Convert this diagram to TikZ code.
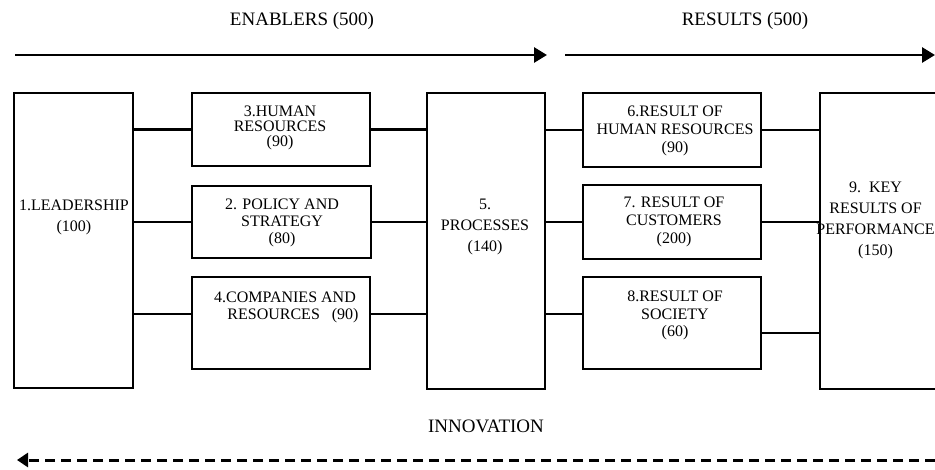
\documentclass[tikz,border=0pt]{standalone}
\usepackage{fontspec}
\setmainfont{Liberation Serif}
\usetikzlibrary{arrows.meta}
\tikzset{
  box/.style={draw, line width=2.7pt, inner sep=0pt},
  btext/.style={inner sep=0pt, align=center, font=\fontsize{16}{#1}\selectfont},
  btext/.default=17,
  htext/.style={inner sep=0pt, font=\fontsize{19}{21}\selectfont},
  conn/.style={line width=2.2pt},
  bigarrow/.style={line width=2.8pt, -{Triangle[length=13pt,width=15pt]}},
}
\begin{document}
\begin{tikzpicture}[x=1pt,y=-1pt]
\useasboundingbox (0,0) rectangle (935,469);
% boxes
\node[box, minimum width=119, minimum height=295] (lead) at (73.5,240.5) {};
\node[box, minimum width=178, minimum height=73] (b3) at (281,129.5) {};
\node[box, minimum width=179, minimum height=72] (b2) at (281.5,222) {};
\node[box, minimum width=178, minimum height=92] (b4) at (281,323) {};
\node[box, minimum width=118, minimum height=296] (proc) at (486,241) {};
\node[box, minimum width=178, minimum height=74] (b6) at (672,130) {};
\node[box, minimum width=178, minimum height=74] (b7) at (672,222) {};
\node[box, minimum width=178, minimum height=92] (b8) at (672,323) {};
\node[box, minimum width=130, minimum height=296] (b9) at (885,241) {};
% texts
\node[btext=21] (tlead) at (74,217) {1.LEADERSHIP\\(100)};
\node[btext=15] (t3) at (280,128) {3.HUMAN\\RESOURCES\\(90)};
\node[btext=17] (t2) at (282,223) {2. POLICY AND\\STRATEGY\\(80)};
\node[btext=17] (t4) at (285,307) {4.COMPANIES AND\\\ \ \ \ RESOURCES\ \ \ (90)};
\node[btext=21] (tproc) at (485,227) {5.\\PROCESSES\\(140)};
\node[btext=18] (t6) at (675,131) {6.RESULT OF\\HUMAN RESOURCES\\(90)};
\node[btext=18] (t7) at (674,222) {7. RESULT OF\\CUSTOMERS\\(200)};
\node[btext=17.5] (t8) at (675,315.5) {8.RESULT OF\\SOCIETY\\(60)};
\node[btext=21] (t9) at (875.5,220) {9.\ \ KEY\\RESULTS OF\\PERFORMANCE\\(150)};
% headers
\node[htext] (enab) at (302,21) {ENABLERS (500)};
\node[htext] (res) at (745,21) {RESULTS (500)};
\node[htext] (innov) at (486,426) {INNOVATION};
% arrows
\coordinate (a1s) at (15,55);
\coordinate (a1e) at (547,55);
\coordinate (a2s) at (565,55);
\coordinate (a2e) at (935,55);
\coordinate (dS) at (935,460);
\coordinate (dE) at (17,460);
\draw[bigarrow] (a1s) -- (a1e);
\draw[bigarrow] (a2s) -- (a2e);
\draw[line width=3pt, dash pattern=on 10pt off 6pt, -{Triangle[length=11pt,width=14pt]}] (dS) -- (dE);
% connectors
\draw[conn] (lead.east |- b3.west) -- (b3.west);
\draw[conn] (lead.east |- b2.west) -- (b2.west);
\draw[conn] (lead.east |- 0,314) -- (b4.west |- 0,314);
\draw[conn] (b3.east) -- (proc.west |- b3.east);
\draw[conn] (b2.east) -- (proc.west |- b2.east);
\draw[conn] (b4.east |- 0,314) -- (proc.west |- 0,314);
\draw[conn] (proc.east |- b6.west) -- (b6.west);
\draw[conn] (proc.east |- b7.west) -- (b7.west);
\draw[conn] (proc.east |- 0,314) -- (b8.west |- 0,314);
\draw[conn] (b6.east) -- (b9.west |- b6.east);
\draw[conn] (b7.east) -- (b9.west |- b7.east);
\draw[conn] (b8.east |- 0,333) -- (b9.west |- 0,333);
\end{tikzpicture}
\end{document}
